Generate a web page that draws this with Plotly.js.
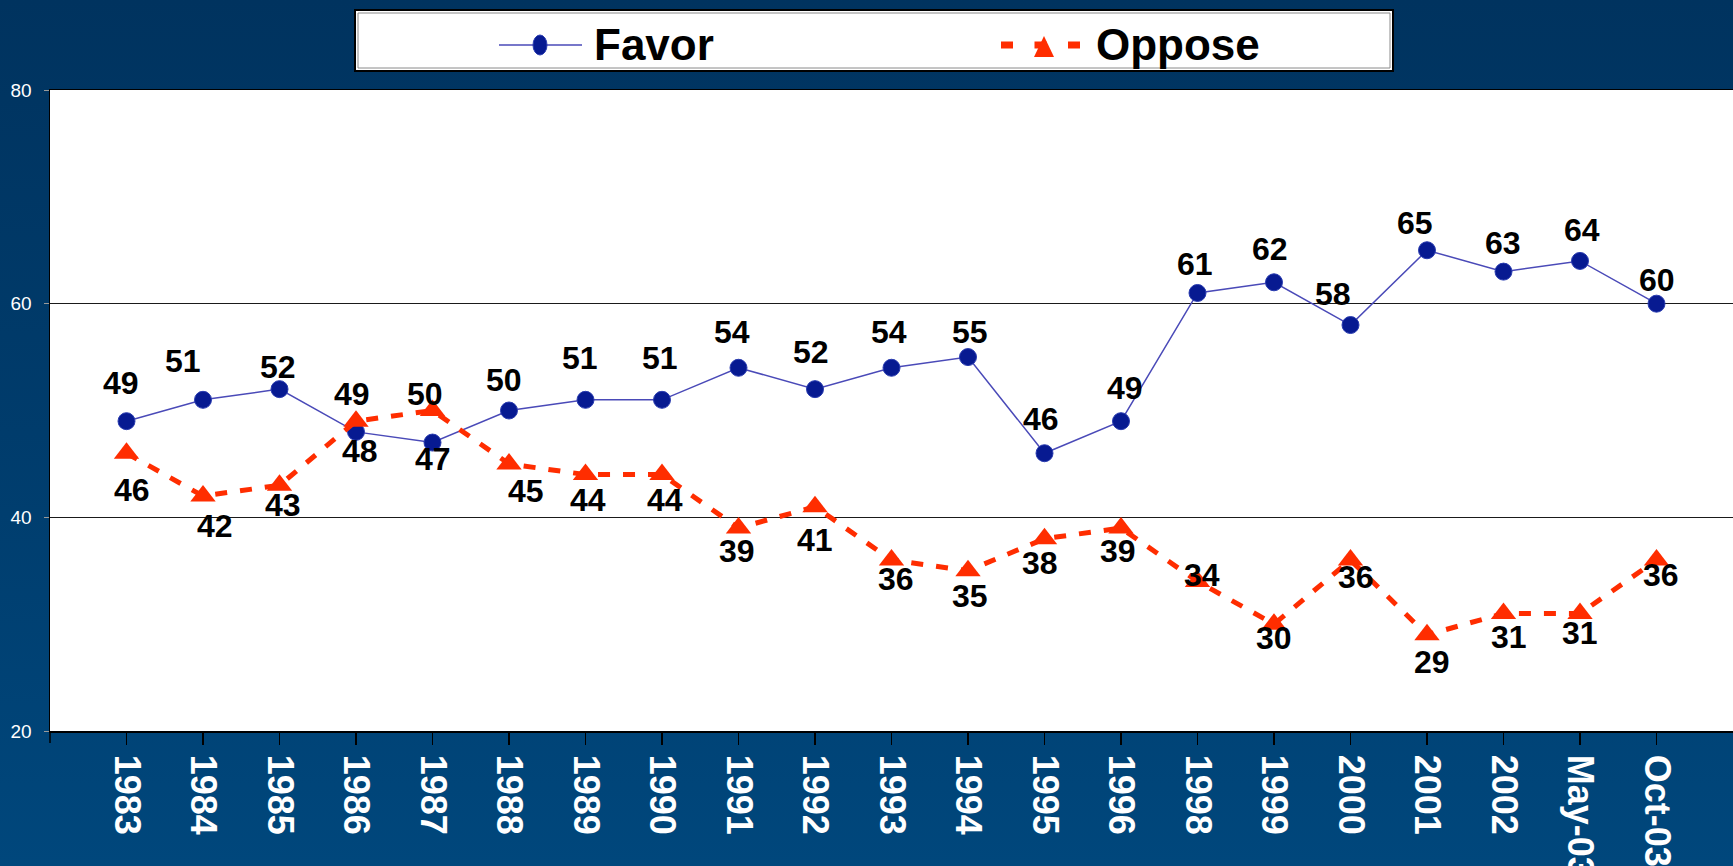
<!DOCTYPE html>
<html>
<head>
<meta charset="utf-8">
<script src="https://cdn.plot.ly/plotly-3.0.1.min.js"></script>
<style>
  html, body { margin: 0; padding: 0; width: 1733px; height: 866px; overflow: hidden;
    background: linear-gradient(to bottom, #00335f 0%, #003c6c 50%, #00477c 100%); }
  #chart { width: 1733px; height: 866px; }
</style>
</head>
<body>
<div id="chart"></div>
<script>
// ---- data ----
const categories = ["1983","1984","1985","1986","1987","1988","1989","1990","1991","1992","1993","1994","1995","1996","1998","1999","2000","2001","2002","May-03","Oct-03"];
const favor  = [49,51,52,48,47,50,51,51,54,52,54,55,46,49,61,62,58,65,63,64,60];
const oppose = [46,42,43,49,50,45,44,44,39,41,36,35,38,39,34,30,36,29,31,31,36];
const seriesNames = ["Favor", "Oppose"];
const yTicks = [20, 40, 60, 80];

// ---- label offsets (pixels, style only) ----
const favorLabelDx  = [-6,-20,-2, 4, 0,-5,-6,-2,-7,-4,-3, 2,-4, 4,-3,-4,-18,-12,-1, 2, 0];
const favorLabelDy  = [-38,-39,-22,19,16,-31,-42,-42,-36,-37,-36,-25,-34,-33,-29,-33,-31,-27,-29,-31,-24];
const opposeLabelDx = [5,12,3,-4,-8,17,2,3,-2,0,4,2,-5,-3,4,0,5,5,5,0,4];
const opposeLabelDy = [37,30,20,-27,-17,27,25,25,23,33,19,25,24,23,-6,14,17,27,24,20,15];

const FONT = "Liberation Sans, Arial, Helvetica, sans-serif";
const favorColor = "#071a91";
const favorLine = "#4a4ab8";
const opposeColor = "#ff2d00";

const traces = [
  {
    type: "scatter", mode: "lines+markers", name: seriesNames[0],
    x: categories, y: favor,
    line: { color: favorLine, width: 1.5 },
    marker: { symbol: "circle", size: 17, color: favorColor, line: { color: "#2a3cb0", width: 1 } },
    showlegend: false, hoverinfo: "x+y"
  },
  {
    type: "scatter", mode: "lines+markers", name: seriesNames[1],
    x: categories, y: oppose,
    line: { color: opposeColor, width: 5, dash: "12px,13px" },
    marker: { symbol: "triangle-up", size: 22, color: opposeColor },
    showlegend: false, hoverinfo: "x+y"
  }
];

const annotations = [];
categories.forEach((c, i) => {
  annotations.push({
    x: i, y: favor[i], xref: "x", yref: "y", text: String(favor[i]), showarrow: false,
    xshift: favorLabelDx[i], yshift: -favorLabelDy[i],
    font: { family: FONT, size: 32, color: "#000", weight: "bold" }
  });
  annotations.push({
    x: i, y: oppose[i], xref: "x", yref: "y", text: String(oppose[i]), showarrow: false,
    xshift: opposeLabelDx[i], yshift: -opposeLabelDy[i],
    font: { family: FONT, size: 32, color: "#000", weight: "bold" }
  });
});

// ---- legend (drawn manually, pixel offsets from the plot's top-left corner) ----
// plot top-left is at page pixel (50, 90)
function px(x) { return x - 50; }   // page x -> offset from paper x=0
function py(y) { return 90 - y; }   // page y -> offset from paper y=1 (up positive)

annotations.push({
  xref: "paper", yref: "paper", x: 0, y: 1, xshift: px(592), yshift: py(44),
  xanchor: "left", yanchor: "middle", text: seriesNames[0], showarrow: false,
  font: { family: FONT, size: 44, color: "#000", weight: "bold" }
});
annotations.push({
  xref: "paper", yref: "paper", x: 0, y: 1, xshift: px(1094), yshift: py(44),
  xanchor: "left", yanchor: "middle", text: seriesNames[1], showarrow: false,
  font: { family: FONT, size: 44, color: "#000", weight: "bold" }
});

function pshape(o) {
  return Object.assign({ xref: "paper", yref: "paper", xsizemode: "pixel", ysizemode: "pixel",
    xanchor: 0, yanchor: 1 }, o);
}
const shapes = [
  // legend box
  pshape({ type: "rect", x0: px(355), x1: px(1393), y0: py(10), y1: py(71),
    fillcolor: "#ffffff", line: { color: "#000", width: 2 } }),
  pshape({ type: "rect", x0: px(358), x1: px(1390), y0: py(13), y1: py(68),
    fillcolor: "rgba(0,0,0,0)", line: { color: "#8a8a8a", width: 1 } }),
  // favor symbol
  pshape({ type: "line", x0: px(499), x1: px(582), y0: py(45), y1: py(45),
    line: { color: favorLine, width: 1.5 } }),
  pshape({ type: "circle", x0: px(533), x1: px(547), y0: py(35), y1: py(55),
    fillcolor: favorColor, line: { color: "#2a3cb0", width: 1 } }),
  // oppose symbol
  pshape({ type: "line", x0: px(1001), x1: px(1080), y0: py(45), y1: py(45),
    line: { color: opposeColor, width: 7, dash: "12px,21.5px" } }),
  pshape({ type: "path",
    path: "M" + px(1034) + "," + py(57) + " L" + px(1054) + "," + py(57) + " L" + px(1044) + "," + py(36) + " Z",
    fillcolor: opposeColor, line: { color: opposeColor, width: 0 } }),
  // origin tick on x axis
  { type: "line", xref: "paper", yref: "paper", x0: 0, x1: 0, ysizemode: "pixel", yanchor: 0,
    y0: 0, y1: -12, line: { color: "#000", width: 1.5 } }
];

const layout = {
  width: 1733, height: 866,
  margin: { l: 50, r: 0, t: 90, b: 135, pad: 0 },
  paper_bgcolor: "rgba(0,0,0,0)",
  plot_bgcolor: "#ffffff",
  showlegend: false,
  font: { family: FONT },
  xaxis: {
    type: "category", range: [-1, 21],
    showline: true, linecolor: "#000", linewidth: 1.5, mirror: true,
    showgrid: false, zeroline: false,
    ticks: "outside", ticklen: 12, tickcolor: "#000", tickwidth: 1.5,
    tickangle: 90, ticklabelstandoff: 3,
    tickfont: { family: FONT, size: 36, color: "#ffffff", weight: "bold" },
    fixedrange: true
  },
  yaxis: {
    range: [20, 80], tickvals: yTicks,
    showline: true, linecolor: "#000", linewidth: 1.5,
    showgrid: true, gridcolor: "#1a1a1a", gridwidth: 1,
    zeroline: false,
    ticks: "outside", ticklen: 5, tickcolor: "#9a9a9a", tickwidth: 1,
    ticklabelstandoff: 8,
    tickfont: { family: FONT, size: 19, color: "#ffffff" },
    fixedrange: true
  },
  annotations: annotations,
  shapes: shapes
};

Plotly.newPlot("chart", traces, layout, { displayModeBar: false, staticPlot: true });
</script>
</body>
</html>
